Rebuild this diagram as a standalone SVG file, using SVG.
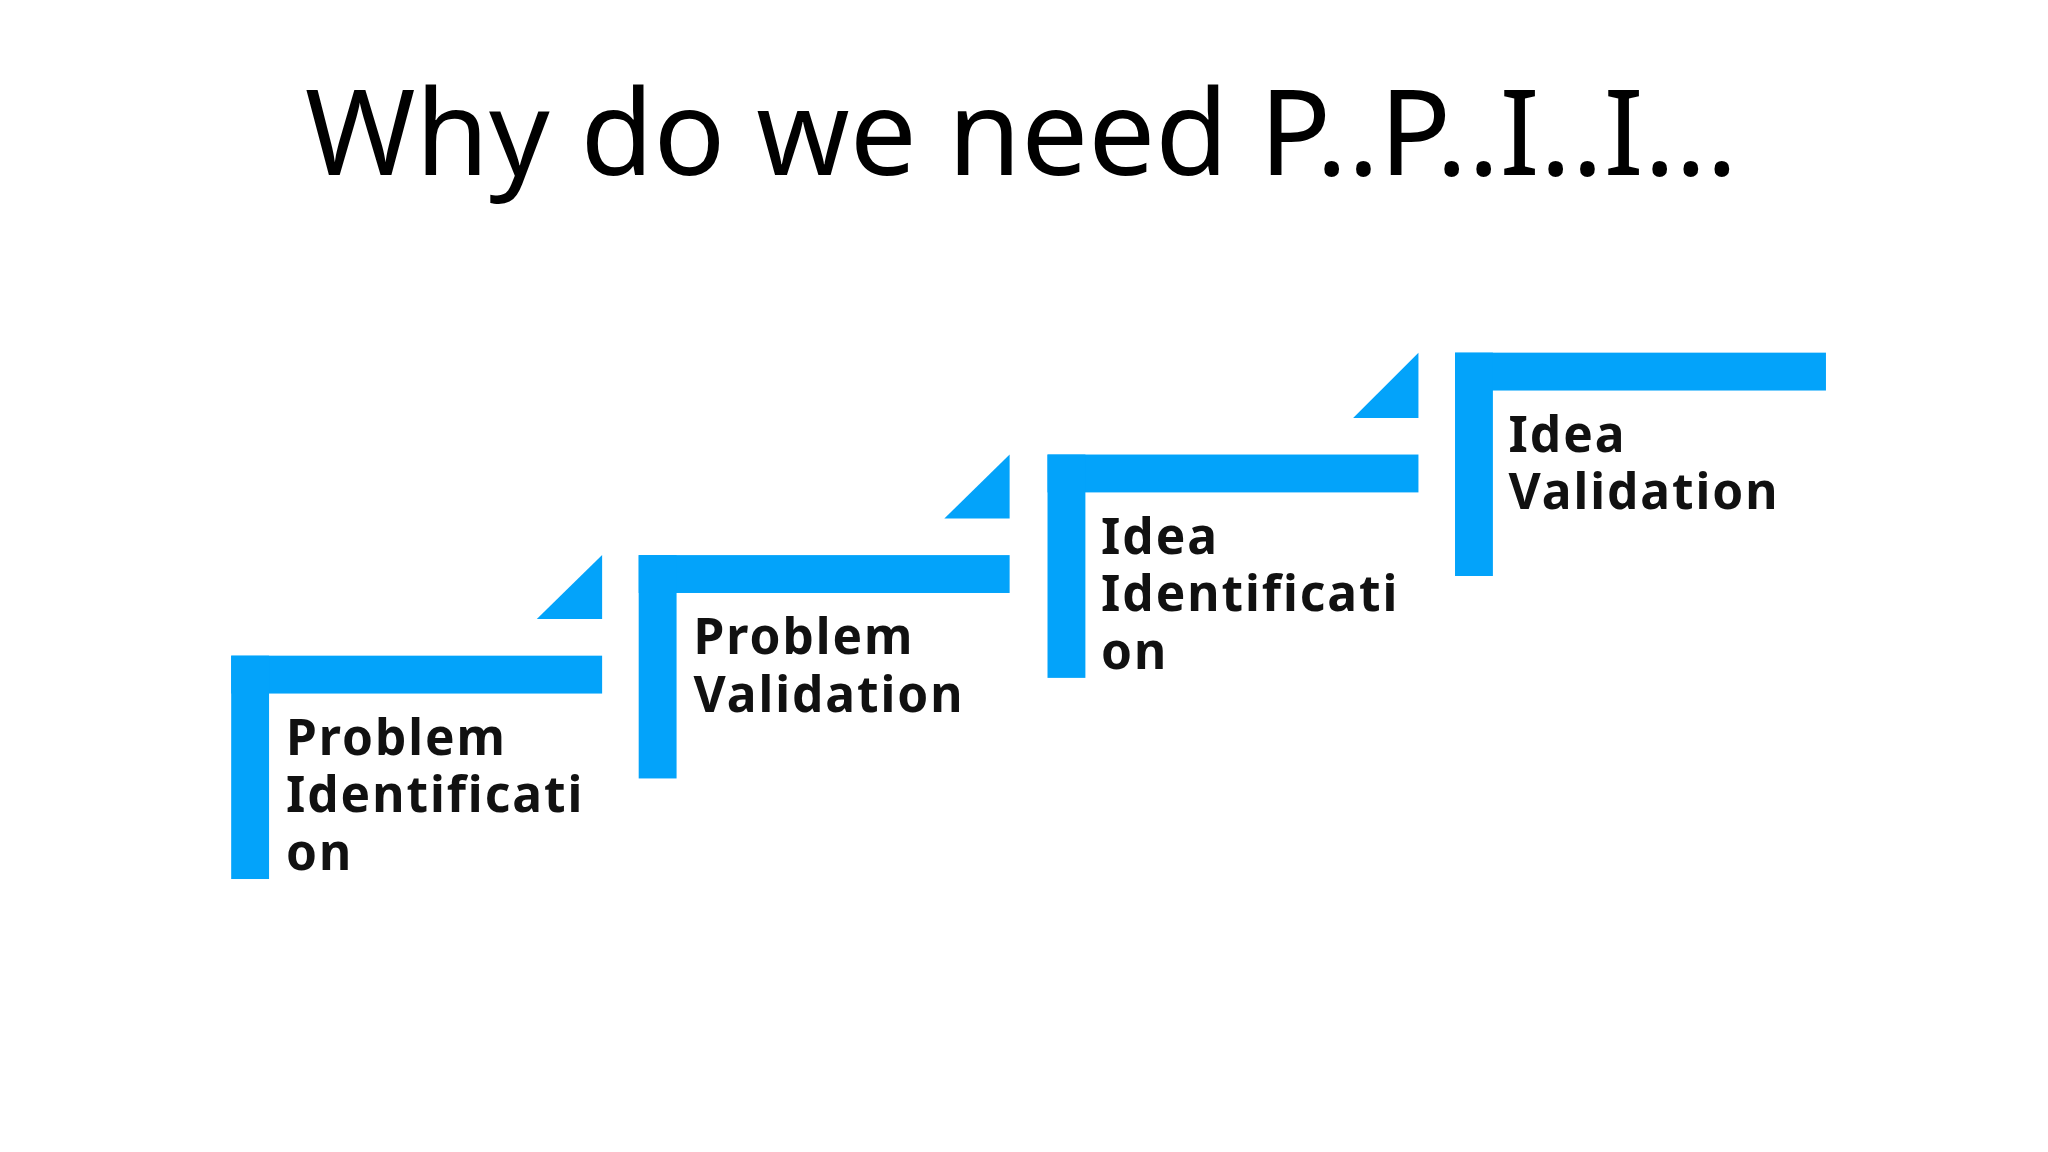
<svg xmlns="http://www.w3.org/2000/svg" width="2048" height="1152" viewBox="0 0 2048 1152">
<style>
.bar{fill:#03A3FA}
.lbl{font-family:"Noto Sans","Open Sans",sans-serif;font-weight:bold;font-size:38px;letter-spacing:1.5px;fill:#111}
.title{font-family:"Noto Sans","Open Sans",sans-serif;font-size:91px;fill:#000}
</style>
<rect width="2048" height="1152" fill="#fff"/>
<g transform="scale(1.30612)">
<text class="title" x="782" y="134" text-anchor="middle">Why do we need P..P..I..I…</text>
<g id="step1">
<rect class="bar" x="177" y="502" width="284" height="29"/>
<rect class="bar" x="177" y="502" width="29" height="171"/>
<polygon class="bar" points="411,474 461,474 461,425"/>
<text class="lbl" x="219" y="578">Problem</text>
<text class="lbl" x="219" y="622">Identificati</text>
<text class="lbl" x="219" y="666">on</text>
</g>
<g id="step2">
<rect class="bar" x="489" y="425" width="284" height="29"/>
<rect class="bar" x="489" y="425" width="29" height="171"/>
<polygon class="bar" points="723,397 773,397 773,348"/>
<text class="lbl" x="531" y="501">Problem</text>
<text class="lbl" x="531" y="545">Validation</text>
</g>
<g id="step3">
<rect class="bar" x="802" y="348" width="284" height="29"/>
<rect class="bar" x="802" y="348" width="29" height="171"/>
<polygon class="bar" points="1036,320 1086,320 1086,270"/>
<text class="lbl" x="843" y="424">Idea</text>
<text class="lbl" x="843" y="468">Identificati</text>
<text class="lbl" x="843" y="512">on</text>
</g>
<g id="step4">
<rect class="bar" x="1114" y="270" width="284" height="29"/>
<rect class="bar" x="1114" y="270" width="29" height="171"/>
<text class="lbl" x="1155" y="346">Idea</text>
<text class="lbl" x="1155" y="390">Validation</text>
</g>
<g id="connectors"/>
</g>
</svg>
